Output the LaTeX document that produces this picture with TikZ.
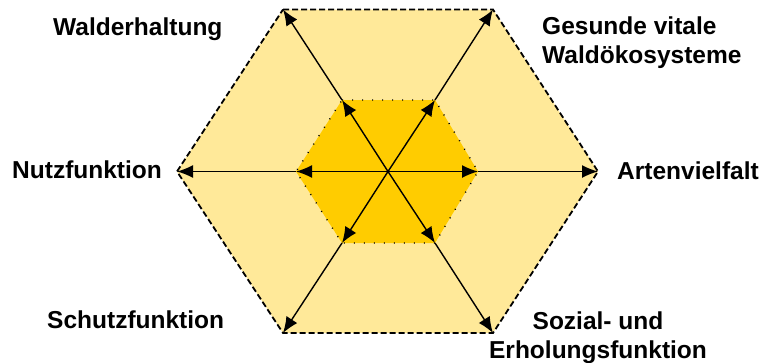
\documentclass[tikz,border=0pt]{standalone}
\definecolor{hexPale}{RGB}{255,233,153}
\definecolor{hexGold}{RGB}{255,204,0}
\usepackage{fontspec}
\setmainfont{Liberation Sans}
\usepackage{tikz}
\usetikzlibrary{arrows.meta,positioning}

\tikzset{
  spoke/.style={line width=1.4pt, -{Latex[length=16pt,width=13pt]}},
  goal/.style={font=\fontsize{24.5}{28.5}\selectfont\bfseries, inner sep=0pt, align=left}
}

\begin{document}
\begin{tikzpicture}[x=1pt,y=-1pt]
        \useasboundingbox (0,0) rectangle (771,362);
        % corners of the two hexagons
        \coordinate (c) at (388,171.5);
        \coordinate (o1) at (283,9.5);   \coordinate (o2) at (493,9.5);
        \coordinate (o3) at (598,171.5); \coordinate (o4) at (493,333);
        \coordinate (o5) at (283,333);   \coordinate (o6) at (177,171.5);
        \coordinate (i1) at (342,100);   \coordinate (i2) at (435,100);
        \coordinate (i3) at (478,171.5); \coordinate (i4) at (435,243);
        \coordinate (i5) at (342,243);   \coordinate (i6) at (296,171.5);

        \fill[hexPale] (o1) -- (o2) -- (o3) -- (o4) -- (o5) -- (o6) -- cycle;
        \draw[line width=1.8pt, dash pattern=on 6pt off 3pt]
          (o1) -- (o2) -- (o3) -- (o4) -- (o5) -- (o6) -- cycle;
        \fill[hexGold] (i1) -- (i2) -- (i3) -- (i4) -- (i5) -- (i6) -- cycle;
        \draw[line width=1.4pt, dash pattern=on 1pt off 9pt]
          (i1) -- (i2) -- (i3) -- (i4) -- (i5) -- (i6) -- cycle;

        \foreach \k in {1,...,6} {
          \draw[spoke] (c) -- (i\k);
          \draw[spoke] (i\k) -- (o\k);
        }

        % labels
        \node[goal, anchor=base west] (erhalt) at (53,35) {Walderhaltung};
        \node[goal, anchor=base west] (vital) at (542,63.3) {Gesunde vitale\\Waldökosysteme};
        \node[goal, anchor=base west] (nutz) at (12,178.5) {Nutzfunktion};
        \node[goal, anchor=base west] (arten) at (617,179) {Artenvielfalt};
        \node[goal, anchor=base west] (schutz) at (47,328.3) {Schutzfunktion};
        \node[goal, anchor=base, align=center] (sozial) at (598,358) {Sozial- und\\Erholungsfunktion};
      \end{tikzpicture}
\end{document}
